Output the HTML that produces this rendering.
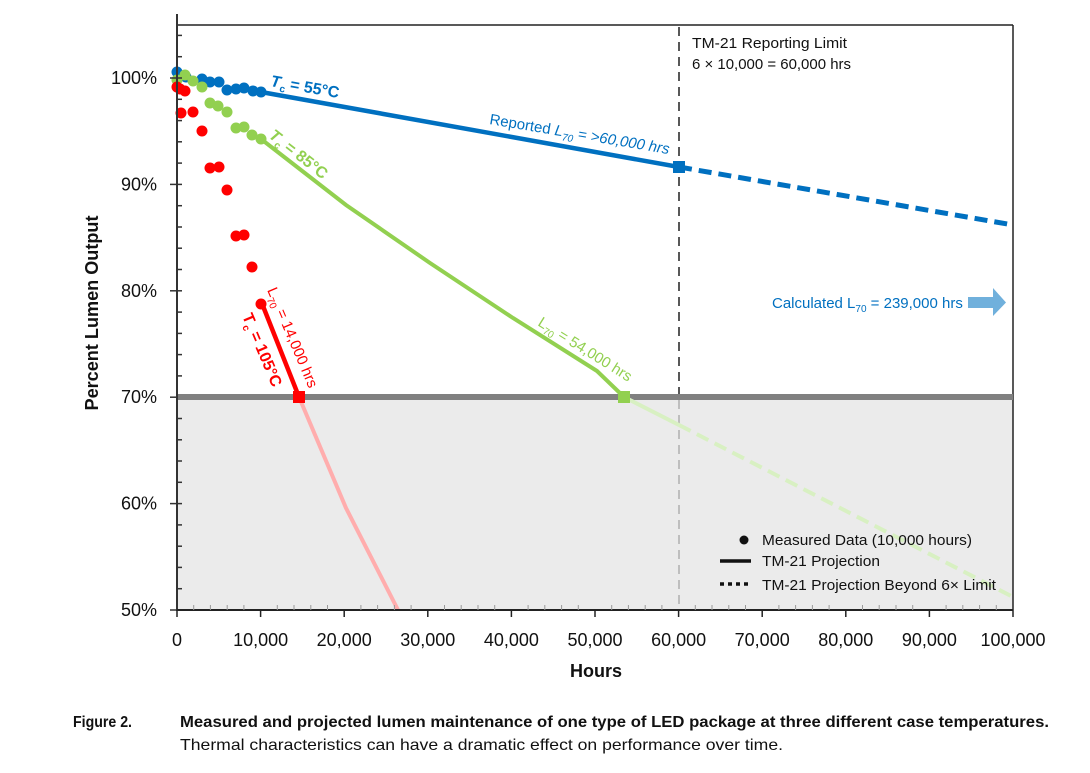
<!DOCTYPE html>
<html><head><meta charset="utf-8"><style>
html,body{margin:0;padding:0;background:#fff;}
svg{display:block;font-family:"Liberation Sans",sans-serif;}
</style></head><body>
<svg width="1090" height="773" viewBox="0 0 1090 773" xmlns="http://www.w3.org/2000/svg">
<rect width="1090" height="773" fill="#fff"/>
<!-- grey region below 70% -->
<rect x="177" y="400" width="836" height="210" fill="#ebebeb"/>
<!-- frame -->
<line x1="177" y1="25" x2="1013" y2="25" stroke="#222" stroke-width="1.5"/>
<line x1="1013" y1="25" x2="1013" y2="610" stroke="#222" stroke-width="1.5"/>
<!-- vertical dashed 60000 -->
<line x1="679" y1="27" x2="679" y2="397" stroke="#111" stroke-width="1.4" stroke-dasharray="9,6"/>
<line x1="679" y1="400" x2="679" y2="610" stroke="#aaa" stroke-width="1.4" stroke-dasharray="9,6"/>
<!-- 70% line -->
<line x1="177" y1="397" x2="1013" y2="397" stroke="#808080" stroke-width="6"/>

<!-- light projections -->
<polyline points="299,397 346,508 398,610" fill="none" stroke="#ffadad" stroke-width="4"/>
<line x1="624" y1="397" x2="679" y2="425" stroke="#d8f0c2" stroke-width="4"/>
<line x1="679" y1="425" x2="1013" y2="597" stroke="#d8f0c2" stroke-width="4" stroke-dasharray="13,7"/>

<!-- blue -->
<line x1="261" y1="92" x2="679" y2="167" stroke="#0070c0" stroke-width="4.5"/>
<line x1="679" y1="167" x2="1013" y2="225" stroke="#0070c0" stroke-width="5" stroke-dasharray="13,7"/>
<rect x="673" y="161" width="12" height="12" fill="#0070c0"/>
<g fill="#0070c0">
<circle cx="177" cy="72" r="5.5"/><circle cx="186" cy="77" r="5.5"/><circle cx="202" cy="79" r="5.5"/>
<circle cx="210" cy="82" r="5.5"/><circle cx="219" cy="82" r="5.5"/><circle cx="227" cy="90" r="5.5"/>
<circle cx="236" cy="89" r="5.5"/><circle cx="244" cy="88" r="5.5"/><circle cx="253" cy="91" r="5.5"/>
<circle cx="261" cy="92" r="5.5"/>
</g>

<!-- green -->
<polyline points="261,139 346,205 430,263 513,318 597,371 624,397" fill="none" stroke="#92d050" stroke-width="4"/>
<rect x="618" y="391" width="12" height="12" fill="#92d050"/>
<g fill="#92d050">
<circle cx="177" cy="80" r="5.5"/><circle cx="185" cy="75" r="5.5"/><circle cx="193" cy="81" r="5.5"/>
<circle cx="202" cy="87" r="5.5"/><circle cx="210" cy="103" r="5.5"/><circle cx="218" cy="106" r="5.5"/>
<circle cx="227" cy="112" r="5.5"/><circle cx="236" cy="128" r="5.5"/><circle cx="244" cy="127" r="5.5"/>
<circle cx="252" cy="135" r="5.5"/><circle cx="261" cy="139" r="5.5"/>
</g>

<!-- red -->
<line x1="261" y1="301" x2="299" y2="397" stroke="#ff0000" stroke-width="4.5"/>
<rect x="293" y="391" width="12" height="12" fill="#ff0000"/>
<g fill="#ff0000">
<circle cx="177" cy="87" r="5.5"/><circle cx="180" cy="89" r="5.5"/><circle cx="185" cy="91" r="5.5"/>
<circle cx="181" cy="113" r="5.5"/><circle cx="193" cy="112" r="5.5"/><circle cx="202" cy="131" r="5.5"/>
<circle cx="210" cy="168" r="5.5"/><circle cx="219" cy="167" r="5.5"/><circle cx="227" cy="190" r="5.5"/>
<circle cx="236" cy="236" r="5.5"/><circle cx="244" cy="235" r="5.5"/><circle cx="252" cy="267" r="5.5"/>
<circle cx="261" cy="304" r="5.5"/>
</g>

<!-- axes -->
<line x1="177" y1="14" x2="177" y2="611" stroke="#333" stroke-width="2"/>
<line x1="176" y1="610" x2="1013" y2="610" stroke="#222" stroke-width="2"/>
<g stroke="#333" stroke-width="1.5">
<line x1="170" y1="78" x2="182" y2="78"/><line x1="170" y1="184.4" x2="182" y2="184.4"/>
<line x1="170" y1="290.8" x2="182" y2="290.8"/><line x1="170" y1="397.2" x2="177" y2="397.2"/>
<line x1="170" y1="503.6" x2="182" y2="503.6"/><line x1="170" y1="610" x2="177" y2="610"/>
<line x1="177" y1="35.4" x2="182" y2="35.4"/><line x1="177" y1="56.7" x2="182" y2="56.7"/>
<line x1="177" y1="99.3" x2="182" y2="99.3"/><line x1="177" y1="120.6" x2="182" y2="120.6"/>
<line x1="177" y1="141.8" x2="182" y2="141.8"/><line x1="177" y1="163.1" x2="182" y2="163.1"/>
<line x1="177" y1="205.7" x2="182" y2="205.7"/><line x1="177" y1="227" x2="182" y2="227"/>
<line x1="177" y1="248.2" x2="182" y2="248.2"/><line x1="177" y1="269.5" x2="182" y2="269.5"/>
<line x1="177" y1="312.1" x2="182" y2="312.1"/><line x1="177" y1="333.4" x2="182" y2="333.4"/>
<line x1="177" y1="354.6" x2="182" y2="354.6"/><line x1="177" y1="375.9" x2="182" y2="375.9"/>
<line x1="177" y1="418.5" x2="182" y2="418.5"/><line x1="177" y1="439.8" x2="182" y2="439.8"/>
<line x1="177" y1="461" x2="182" y2="461"/><line x1="177" y1="482.3" x2="182" y2="482.3"/>
<line x1="177" y1="524.9" x2="182" y2="524.9"/><line x1="177" y1="546.2" x2="182" y2="546.2"/>
<line x1="177" y1="567.4" x2="182" y2="567.4"/><line x1="177" y1="588.7" x2="182" y2="588.7"/>
</g>
<g stroke="#222" stroke-width="1.5">
<line x1="177" y1="610" x2="177" y2="617"/><line x1="260.6" y1="610" x2="260.6" y2="617"/>
<line x1="344.2" y1="610" x2="344.2" y2="617"/><line x1="427.8" y1="610" x2="427.8" y2="617"/>
<line x1="511.4" y1="610" x2="511.4" y2="617"/><line x1="595" y1="610" x2="595" y2="617"/>
<line x1="678.6" y1="610" x2="678.6" y2="617"/><line x1="762.2" y1="610" x2="762.2" y2="617"/>
<line x1="845.8" y1="610" x2="845.8" y2="617"/><line x1="929.4" y1="610" x2="929.4" y2="617"/>
<line x1="1013" y1="610" x2="1013" y2="617"/>
</g>
<g stroke="#999" stroke-width="1">
<line x1="193.7" y1="605" x2="193.7" y2="610"/><line x1="210.4" y1="605" x2="210.4" y2="610"/><line x1="227.2" y1="605" x2="227.2" y2="610"/><line x1="243.9" y1="605" x2="243.9" y2="610"/>
<line x1="277.3" y1="605" x2="277.3" y2="610"/><line x1="294" y1="605" x2="294" y2="610"/><line x1="310.8" y1="605" x2="310.8" y2="610"/><line x1="327.5" y1="605" x2="327.5" y2="610"/>
<line x1="360.9" y1="605" x2="360.9" y2="610"/><line x1="377.6" y1="605" x2="377.6" y2="610"/><line x1="394.4" y1="605" x2="394.4" y2="610"/><line x1="411.1" y1="605" x2="411.1" y2="610"/>
<line x1="444.5" y1="605" x2="444.5" y2="610"/><line x1="461.2" y1="605" x2="461.2" y2="610"/><line x1="478" y1="605" x2="478" y2="610"/><line x1="494.7" y1="605" x2="494.7" y2="610"/>
<line x1="528.1" y1="605" x2="528.1" y2="610"/><line x1="544.8" y1="605" x2="544.8" y2="610"/><line x1="561.6" y1="605" x2="561.6" y2="610"/><line x1="578.3" y1="605" x2="578.3" y2="610"/>
<line x1="611.7" y1="605" x2="611.7" y2="610"/><line x1="628.4" y1="605" x2="628.4" y2="610"/><line x1="645.2" y1="605" x2="645.2" y2="610"/><line x1="661.9" y1="605" x2="661.9" y2="610"/>
<line x1="695.3" y1="605" x2="695.3" y2="610"/><line x1="712" y1="605" x2="712" y2="610"/><line x1="728.8" y1="605" x2="728.8" y2="610"/><line x1="745.5" y1="605" x2="745.5" y2="610"/>
<line x1="778.9" y1="605" x2="778.9" y2="610"/><line x1="795.6" y1="605" x2="795.6" y2="610"/><line x1="812.4" y1="605" x2="812.4" y2="610"/><line x1="829.1" y1="605" x2="829.1" y2="610"/>
<line x1="862.5" y1="605" x2="862.5" y2="610"/><line x1="879.2" y1="605" x2="879.2" y2="610"/><line x1="896" y1="605" x2="896" y2="610"/><line x1="912.7" y1="605" x2="912.7" y2="610"/>
<line x1="946.1" y1="605" x2="946.1" y2="610"/><line x1="962.8" y1="605" x2="962.8" y2="610"/><line x1="979.6" y1="605" x2="979.6" y2="610"/><line x1="996.3" y1="605" x2="996.3" y2="610"/>
</g>

<!-- y labels -->
<g font-size="18" fill="#111" text-anchor="end">
<text x="157" y="84">100%</text><text x="157" y="190.4">90%</text><text x="157" y="296.8">80%</text>
<text x="157" y="403.2">70%</text><text x="157" y="509.6">60%</text><text x="157" y="616">50%</text>
</g>
<text transform="translate(98,313) rotate(-90)" font-size="18" font-weight="bold" fill="#111" text-anchor="middle" textLength="195" lengthAdjust="spacingAndGlyphs">Percent Lumen Output</text>
<g font-size="18" fill="#111" text-anchor="middle">
<text x="177" y="646">0</text><text x="260.6" y="646">10,000</text><text x="344.2" y="646">20,000</text>
<text x="427.8" y="646">30,000</text><text x="511.4" y="646">40,000</text><text x="595" y="646">50,000</text>
<text x="678.6" y="646">60,000</text><text x="762.2" y="646">70,000</text><text x="845.8" y="646">80,000</text>
<text x="929.4" y="646">90,000</text><text x="1013" y="646">100,000</text>
</g>
<text x="596" y="677" font-size="18" font-weight="bold" fill="#111" text-anchor="middle">Hours</text>

<!-- annotations -->
<text transform="translate(270,86) rotate(10)" font-size="16" font-weight="bold" fill="#0070c0"><tspan font-style="italic">T</tspan><tspan font-size="10" dy="4">c</tspan><tspan dy="-4"> = 55°C</tspan></text>
<text transform="translate(268,137) rotate(38)" font-size="16" font-weight="bold" fill="#92d050"><tspan font-style="italic">T</tspan><tspan font-size="10" dy="4">c</tspan><tspan dy="-4"> = 85°C</tspan></text>
<text transform="translate(489,124) rotate(9.5)" font-size="15" fill="#0070c0">Reported <tspan font-style="italic">L</tspan><tspan font-size="10" dy="4" font-style="italic">70</tspan><tspan dy="-4" font-style="italic"> = &gt;60,000 hrs</tspan></text>
<text transform="translate(537,325) rotate(32)" font-size="15" fill="#92d050">L<tspan font-size="10" dy="4">70</tspan><tspan dy="-4"> = 54,000 hrs</tspan></text>
<text transform="translate(267,290) rotate(67)" font-size="15" fill="#ff0000">L<tspan font-size="10" dy="4">70</tspan><tspan dy="-4"> = 14,000 hrs</tspan></text>
<text transform="translate(242,316) rotate(67)" font-size="16" font-weight="bold" fill="#ff0000">T<tspan font-size="10" dy="4">c</tspan><tspan dy="-4"> = 105°C</tspan></text>

<text x="692" y="48" font-size="15" fill="#111" textLength="155" lengthAdjust="spacingAndGlyphs">TM-21 Reporting Limit</text>
<text x="692" y="69" font-size="15" fill="#111" textLength="159" lengthAdjust="spacingAndGlyphs">6 × 10,000 = 60,000 hrs</text>

<text x="772" y="308" font-size="15" fill="#0070c0">Calculated L<tspan font-size="10" dy="4">70</tspan><tspan dy="-4"> = 239,000 hrs</tspan></text>
<polygon points="968,297 993,297 993,288 1006,302.5 993,316 993,308 968,308" fill="#70b0dc"/>

<!-- legend -->
<circle cx="744" cy="540" r="4.5" fill="#111"/>
<line x1="720" y1="561" x2="751" y2="561" stroke="#111" stroke-width="3.5"/>
<line x1="720" y1="584" x2="752" y2="584" stroke="#111" stroke-width="3.5" stroke-dasharray="4,4"/>
<g font-size="15" fill="#111">
<text x="762" y="545" textLength="210" lengthAdjust="spacingAndGlyphs">Measured Data (10,000 hours)</text>
<text x="762" y="566" textLength="118" lengthAdjust="spacingAndGlyphs">TM-21 Projection</text>
<text x="762" y="590" textLength="234" lengthAdjust="spacingAndGlyphs">TM-21 Projection Beyond 6× Limit</text>
</g>

<!-- caption -->
<text x="73" y="727" font-size="16" font-weight="bold" fill="#111" textLength="59" lengthAdjust="spacingAndGlyphs">Figure 2.</text>
<text x="180" y="727" font-size="16" font-weight="bold" fill="#111" textLength="869" lengthAdjust="spacingAndGlyphs">Measured and projected lumen maintenance of one type of LED package at three different case temperatures.</text>
<text x="180" y="750" font-size="16" fill="#111" textLength="603" lengthAdjust="spacingAndGlyphs">Thermal characteristics can have a dramatic effect on performance over time.</text>
</svg>
</body></html>
